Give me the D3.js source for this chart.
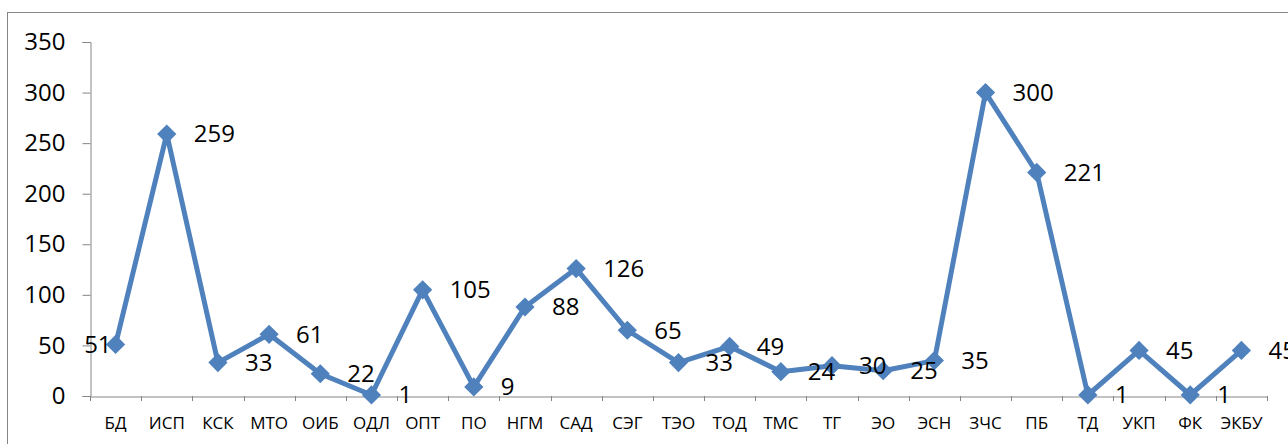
<!DOCTYPE html>
<html>
<head>
<meta charset="utf-8">
<script src="https://cdn.jsdelivr.net/npm/d3@7"></script>
<style>
  html, body { margin: 0; padding: 0; background: #fff; }
  svg text { font-family: "Open Sans", "Noto Sans", sans-serif; fill: #000; }
</style>
</head>
<body>
<div id="chart"></div>
<script>
const CATEGORIES = ['БД', 'ИСП', 'КСК', 'МТО', 'ОИБ', 'ОДЛ', 'ОПТ', 'ПО', 'НГМ', 'САД',
  'СЭГ', 'ТЭО', 'ТОД', 'ТМС', 'ТГ', 'ЭО', 'ЭСН', 'ЗЧС', 'ПБ', 'ТД', 'УКП', 'ФК', 'ЭКБУ'];
const VALUES = [51, 259, 33, 61, 22, 1, 105, 9, 88, 126, 65, 33, 49, 24, 30, 25, 35, 300, 221, 1, 45, 1, 45];
const Y_TICKS = [0, 50, 100, 150, 200, 250, 300, 350];

const WIDTH = 1288;
const HEIGHT = 444;
const LINE_COLOR = '#4f81bd';
const AXIS_COLOR = '#868686';

let svg = d3.select('#chart').append('svg')
    .attr('width', WIDTH)
    .attr('height', HEIGHT);

// chart border (runs off the right and bottom edges)
svg.append('rect')
    .attr('x', 7.5).attr('y', 12.5)
    .attr('width', WIDTH + 20).attr('height', HEIGHT + 20)
    .attr('fill', 'none')
    .attr('stroke', AXIS_COLOR)
    .attr('stroke-width', 1);

let xScale = d3.scaleBand()
    .domain(CATEGORIES)
    .range([90, 1267])
    .padding(0);

let yScale = d3.scaleLinear()
    .domain([0, 350])
    .range([396, 42]);

function xCenter(c) { return xScale(c) + xScale.bandwidth() / 2; }

// y axis
let yAxis = svg.append('g')
    .attr('transform', 'translate(90.5,0)')
    .call(d3.axisLeft(yScale).tickValues(Y_TICKS).tickSize(8).tickPadding(17));
yAxis.selectAll('path, line').attr('stroke', AXIS_COLOR);
yAxis.selectAll('text').style('font-size', '24px');

// x axis labels
let xAxis = svg.append('g')
    .attr('transform', 'translate(0,396.5)')
    .call(d3.axisBottom(xScale).tickSize(0).tickPadding(20));
xAxis.select('.domain').attr('stroke', AXIS_COLOR);
xAxis.selectAll('text').style('font-size', '17px');

// x tick marks at category boundaries
let bounds = CATEGORIES.map(c => xScale(c)).concat([xScale.range()[1]]);
svg.append('g').selectAll('line')
    .data(bounds)
    .join('line')
    .attr('x1', d => Math.round(d) + 0.5).attr('x2', d => Math.round(d) + 0.5)
    .attr('y1', 396).attr('y2', 401)
    .attr('stroke', AXIS_COLOR);

let points = CATEGORIES.map((c, i) => ({ cat: c, value: VALUES[i] }));

let valueLine = d3.line()
    .x(d => xCenter(d.cat))
    .y(d => yScale(d.value));

svg.append('path')
    .attr('d', valueLine(points))
    .attr('fill', 'none')
    .attr('stroke', LINE_COLOR)
    .attr('stroke-width', 5)
    .attr('stroke-linejoin', 'round');

// diamond markers
svg.append('g').selectAll('path')
    .data(points)
    .join('path')
    .attr('d', d3.symbol(d3.symbolSquare, 185)())
    .attr('transform', d => 'translate(' + xCenter(d.cat) + ',' + yScale(d.value) + ') rotate(45)')
    .attr('fill', LINE_COLOR);

// data labels, right of point (the first one sits to the left)
svg.append('g').selectAll('text')
    .data(points)
    .join('text')
    .attr('x', (d, i) => i === 0 ? xCenter(d.cat) - 4 : xCenter(d.cat) + 27)
    .attr('y', d => yScale(d.value))
    .attr('dy', '0.35em')
    .attr('text-anchor', (d, i) => i === 0 ? 'end' : 'start')
    .style('font-size', '24px')
    .text(d => d.value);
</script>
</body>
</html>
